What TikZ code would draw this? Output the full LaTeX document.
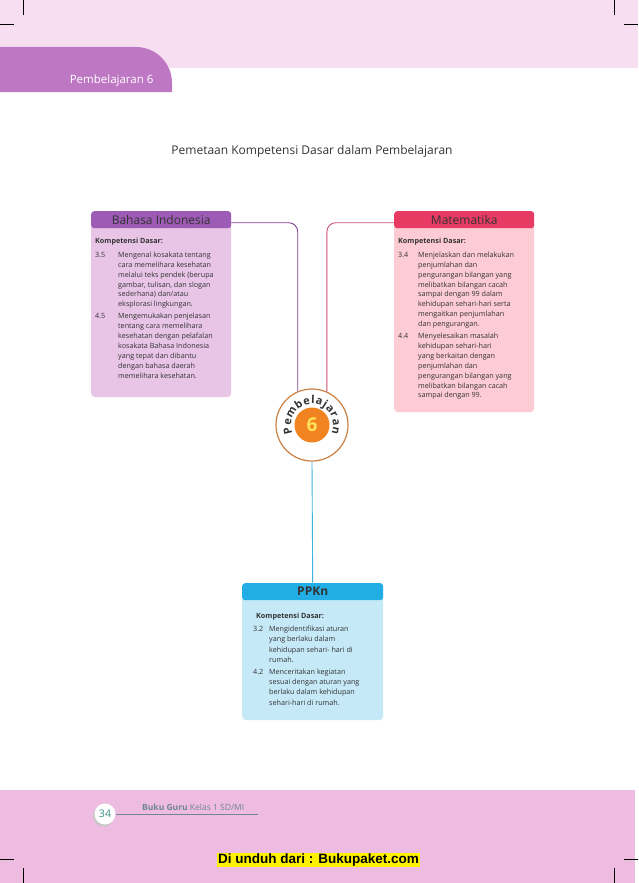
\documentclass[tikz,border=0pt]{standalone}
\usepackage{fontspec}
\setmainfont{Open Sans}
\newfontfamily\arialfont{Liberation Sans}
\usetikzlibrary{positioning,decorations.text}

\definecolor{bandpink}{HTML}{F7DEF1}
\definecolor{tabpurple}{HTML}{BE78C3}
\definecolor{footpink}{HTML}{EEBBE1}
\definecolor{bhsdark}{HTML}{9E5BB5}
\definecolor{bhslight}{HTML}{E8C5E7}
\definecolor{bhsline}{HTML}{7E3D8F}
\definecolor{matdark}{HTML}{E83B63}
\definecolor{matlight}{HTML}{FCCBD3}
\definecolor{matline}{HTML}{C9506F}
\definecolor{ppkdark}{HTML}{22AEE5}
\definecolor{ppklight}{HTML}{C6E9F8}
\definecolor{ppkline}{HTML}{3CB3E0}
\definecolor{ringline}{HTML}{C98043}
\definecolor{ringorange}{HTML}{F18421}
\definecolor{sixyellow}{HTML}{FFE35A}
\definecolor{bodytext}{HTML}{333333}
\definecolor{pagenum}{HTML}{3E8D80}
\definecolor{footgrey}{HTML}{6F878D}

\tikzset{
  kdbody/.style={rectangle, rounded corners=4pt, minimum width=140pt, anchor=north west, inner sep=0pt},
  kdhead/.style={rectangle, rounded corners=3pt, minimum width=140pt, minimum height=17pt, anchor=north, inner sep=0pt, font=\fontsize{12}{13}\selectfont, text=bodytext},
  kdtext/.style={anchor=north west, align=left, inner sep=0pt, text=bodytext, font=\fontsize{7.2}{9.9}\selectfont},
  link/.style={line width=0.9pt, rounded corners=9pt},
  cropmark/.style={line width=0.6pt, black},
}

\begin{document}
\begin{tikzpicture}[x=1pt, y=-1pt]
  \useasboundingbox (0,0) rectangle (638,883);

  % page frame
  \fill[bandpink] (0,0) rectangle (638,68);
  \fill[tabpurple] (0,92) -- (0,47) [rounded corners=36pt] -- (172,47) [sharp corners] -- (172,92) -- cycle;
  \node[anchor=base east, text=white, font=\fontsize{11.5}{13}\selectfont] (tabtext) at (157,84) {Pembelajaran 6};
  \fill[footpink] (0,790) rectangle (635,883);
  \draw[cropmark] (23,0) -- (23,15) (0,24) -- (14,24);
  \draw[cropmark] (614,0) -- (614,15) (624,24) -- (638,24);
  \draw[cropmark] (0,859) -- (14,859) (23,868) -- (23,883);
  \draw[cropmark] (624,859) -- (638,859) (614,868) -- (614,883);

  \node[font=\fontsize{12}{14}\selectfont, text=bodytext] (judul) at (312,151) {Pemetaan Kompetensi Dasar dalam Pembelajaran};

  % Bahasa Indonesia
  \node[kdbody, fill=bhslight, minimum height=186pt] (bhs) at (91,211) {};
  \node[kdhead, fill=bhsdark] (bhshead) at (bhs.north) {Bahasa Indonesia};
  \node[kdtext] (bhstext) at ([xshift=4pt,yshift=-27pt]bhs.north west) {%
    \textbf{Kompetensi Dasar:}\\[4pt]
    \begin{tabular}{@{}p{23pt}@{}l@{}}
    3.5 & Mengenal kosakata tentang\\
        & cara memelihara kesehatan\\
        & melalui teks pendek (berupa\\
        & gambar, tulisan, dan slogan\\
        & sederhana) dan/atau\\
        & eksplorasi lingkungan.\\[2pt]
    4.5 & Mengemukakan penjelasan\\
        & tentang cara memelihara\\
        & kesehatan dengan pelafalan\\
        & kosakata Bahasa Indonesia\\
        & yang tepat dan dibantu\\
        & dengan bahasa daerah\\
        & memelihara kesehatan.
    \end{tabular}};

  % Matematika
  \node[kdbody, fill=matlight, minimum height=201pt] (mat) at (394,211) {};
  \node[kdhead, fill=matdark] (mathead) at (mat.north) {Matematika};
  \node[kdtext] (mattext) at ([xshift=4pt,yshift=-27pt]mat.north west) {%
    \textbf{Kompetensi Dasar:}\\[4pt]
    \begin{tabular}{@{}p{20pt}@{}l@{}}
    3.4 & Menjelaskan dan melakukan\\
        & penjumlahan dan\\
        & pengurangan bilangan yang\\
        & melibatkan bilangan cacah\\
        & sampai dengan 99 dalam\\
        & kehidupan sehari-hari serta\\
        & mengaitkan penjumlahan\\
        & dan pengurangan.\\[2pt]
    4.4 & Menyelesaikan masalah\\
        & kehidupan sehari-hari\\
        & yang berkaitan dengan\\
        & penjumlahan dan\\
        & pengurangan bilangan yang\\
        & melibatkan bilangan cacah\\
        & sampai dengan 99.
    \end{tabular}};

  % PPKn
  \node[kdbody, fill=ppklight, minimum width=141pt, minimum height=137pt] (ppk) at (242,583) {};
  \node[kdhead, fill=ppkdark, minimum width=141pt] (ppkhead) at (ppk.north) {\textbf{PPKn}};
  \node[kdtext, anchor=north west] (ppktitle) at ([xshift=14pt,yshift=-30pt]ppk.north west) {\textbf{Kompetensi Dasar:}};
  \node[kdtext, font=\fontsize{7.2}{10.4}\selectfont] (ppktext) at ([xshift=11pt,yshift=-41pt]ppk.north west) {%
    \begin{tabular}{@{}p{16pt}@{}l@{}}
    3.2 & Mengidentifikasi aturan\\
        & yang berlaku dalam\\
        & kehidupan sehari- hari di\\
        & rumah.\\[1pt]
    4.2 & Menceritakan kegiatan\\
        & sesuai dengan aturan yang\\
        & berlaku dalam kehidupan\\
        & sehari-hari di rumah.
    \end{tabular}};

  % lingkaran tengah
  \node[circle, draw=ringline, line width=1.2pt, fill=white, minimum size=72pt, inner sep=0pt] (pb) at (312,425) {};
  \node[circle, fill=ringorange, minimum size=35pt, inner sep=0pt, text=sixyellow, font=\bfseries\fontsize{19}{20}\selectfont] (six) at (pb.center) {6};
  \begin{scope}[shift={(pb.center)}, y=1pt]
    \path[decorate, decoration={text along path, text align={fit to path},
      text={|\color{bodytext}\bfseries\fontsize{11}{12}\selectfont|Pembelajaran}}]
      (203:21) arc[start angle=203, end angle=-23, radius=21];
  \end{scope}

  \draw[link, bhsline] ([yshift=-3pt]bhshead.east) -| (pb.113);
  \draw[link, matline] ([yshift=-3pt]mathead.west) -| (pb.66);
  \draw[link, ppkline] (pb.south) -- (ppkhead.north);

  % footer
  \fill[black!22] (103.5,816) circle[radius=10.5];
  \node[circle, fill=white, minimum size=21pt, inner sep=0pt, text=pagenum, font=\fontsize{10.5}{11}\selectfont] (pgnum) at (105,814) {34};
  \coordinate (footend) at (258,813);
  \draw[footgrey, line width=0.7pt] (pgnum.east) -- (footend |- pgnum.east);
  \node[anchor=base west, inner sep=0pt, text=footgrey, font=\fontsize{8.5}{9}\selectfont] (bukuguru) at (142,810) {\textbf{Buku Guru} Kelas 1 SD/MI};
  \node[fill=yellow, inner xsep=1pt, inner ysep=1pt, font=\arialfont\bfseries\fontsize{13.5}{15}\selectfont] (unduh) at (318.5,860) {Di unduh dari : Bukupaket.com};
\end{tikzpicture}
\end{document}
